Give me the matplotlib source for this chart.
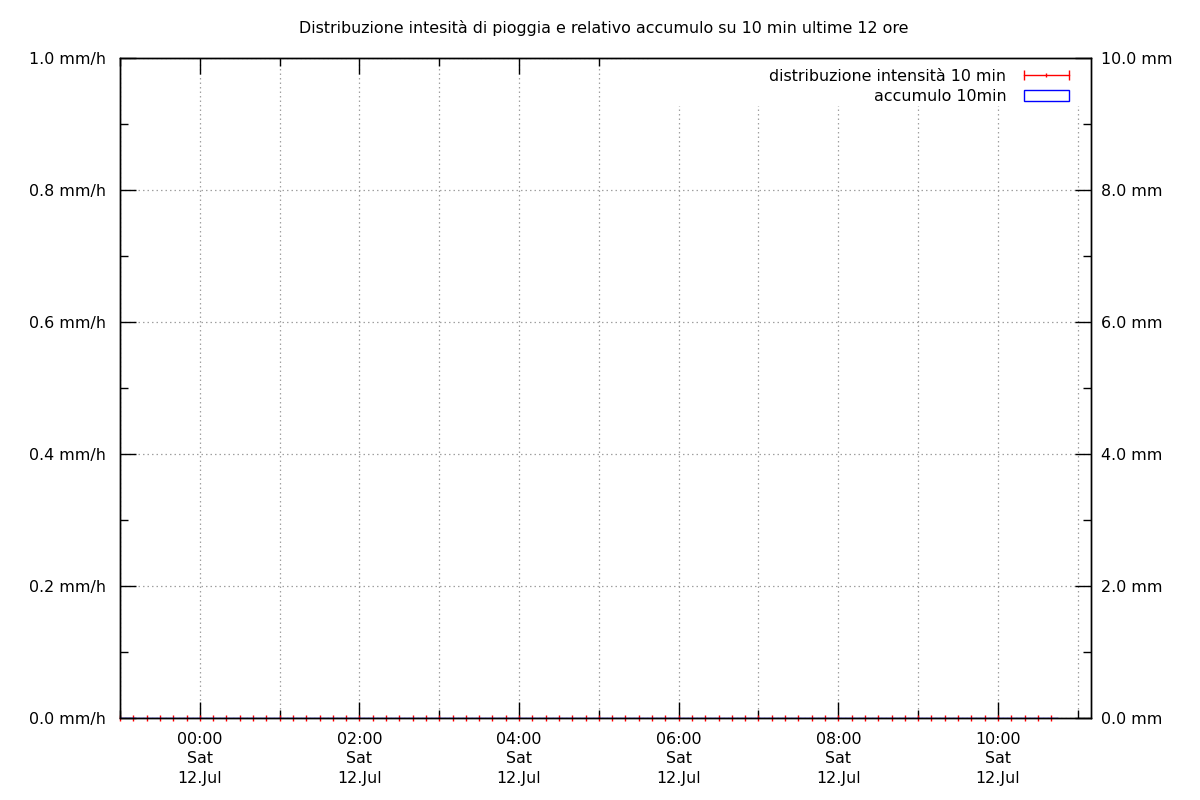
import matplotlib
matplotlib.use("Agg")
import matplotlib.pyplot as plt
import matplotlib.dates as mdates
from matplotlib.lines import Line2D
from matplotlib.patches import Rectangle
import numpy as np
import pandas as pd

plt.rcParams['font.family'] = ['DejaVu Sans']

# ---- data ----
title = "Distribuzione intesità di pioggia e relativo accumulo su 10 min ultime 12 ore"
times = pd.date_range("2025-07-11 23:00", "2025-07-12 10:40", freq="10min")
intensity = [0.0] * len(times)          # mm/h
intensity_err = [0.0] * len(times)
accum = [0.0] * len(times)              # mm
x_start = pd.Timestamp("2025-07-11 23:00")
x_end = pd.Timestamp("2025-07-12 11:10")
label_int = "distribuzione intensità 10 min"
label_acc = "accumulo 10min"

FS = 11.4

fig = plt.figure(figsize=(12, 8), dpi=100)
ax = fig.add_axes([0.1, 0.1025, 0.8092, 0.825])
ax2 = ax.twinx()

ax.errorbar(times, intensity, yerr=intensity_err, fmt='|', color='red', ms=4,
            mew=1, elinewidth=1, capsize=0, clip_on=False, zorder=2)
ax2.bar(times, accum, width=pd.Timedelta(minutes=10), fill=False,
        edgecolor='blue', linewidth=1, zorder=1)

ax.set_xlim(x_start, x_end)
ax.set_ylim(0, 1.0)
ax2.set_ylim(0, 10.0)

ax.xaxis.set_major_locator(mdates.HourLocator(byhour=range(0, 24, 2)))
ax.xaxis.set_minor_locator(mdates.HourLocator())
ax.xaxis.set_major_formatter(mdates.DateFormatter('%H:%M\n%a\n%d.%b'))
ax.yaxis.set_major_locator(plt.MultipleLocator(0.2))
ax.yaxis.set_minor_locator(plt.MultipleLocator(0.1))
ax.yaxis.set_major_formatter(plt.FuncFormatter(lambda v, p: f"{v:.1f} mm/h"))
ax2.yaxis.set_major_locator(plt.MultipleLocator(2.0))
ax2.yaxis.set_minor_locator(plt.MultipleLocator(1.0))
ax2.yaxis.set_major_formatter(plt.FuncFormatter(lambda v, p: f"{v:.1f} mm"))

ax.tick_params(axis='x', which='both', direction='in', top=True, bottom=True,
               labelsize=FS, pad=10)
ax.tick_params(axis='x', which='major', length=11.5, width=1)
ax.tick_params(axis='x', which='minor', length=6, width=1)
ax.tick_params(axis='y', which='both', direction='in', left=True, right=False,
               labelsize=FS, pad=10)
ax.tick_params(axis='y', which='major', length=11.5, width=1)
ax.tick_params(axis='y', which='minor', length=6, width=1)
ax2.tick_params(axis='y', which='both', direction='in', right=True, left=False,
                labelsize=FS, pad=7)
ax2.tick_params(axis='y', which='major', length=11.5, width=1)
ax2.tick_params(axis='y', which='minor', length=6, width=1)
for lab in ax.get_xticklabels():
    lab.set_linespacing(1.37)

ax.grid(True, which='major', axis='both', color='#a0a0a0', linestyle=(0, (1.2, 2.4)), linewidth=0.9)
ax.grid(True, which='minor', axis='x', color='#a0a0a0', linestyle=(0, (1.2, 2.4)), linewidth=0.9)
ax.set_axisbelow(True)
for a in (ax, ax2):
    for s in a.spines.values():
        s.set_linewidth(1)
        s.set_color('black')

# white key background (covers grid like gnuplot's key box)
ax.add_patch(Rectangle((0.545, 0.927), 0.455, 0.073, transform=ax.transAxes,
                       facecolor='white', edgecolor='none', zorder=1))

fig.text(0.503, 0.965, title, ha='center', va='center', fontsize=FS)


class ErrHandler:
    def legend_artist(self, legend, orig_handle, fontsize, handlebox):
        x0, y0 = handlebox.xdescent, handlebox.ydescent
        w, h = handlebox.width, handlebox.height
        yc = h / 2 - y0
        tr = handlebox.get_transform()
        arts = [
            Line2D([-x0, -x0 + w], [yc, yc], color='red', lw=1, transform=tr),
            Line2D([-x0, -x0 + w], [yc, yc], color='red', lw=0, marker='|',
                   ms=7, mew=1, markevery=[0, 1], transform=tr),
            Line2D([-x0 + w / 2], [yc], color='red', lw=0, marker='|', ms=3,
                   mew=1, transform=tr),
        ]
        for a in arts:
            handlebox.add_artist(a)
        return arts[0]


h_int = Line2D([], [], color='red')
h_acc = Rectangle((0, 0), 1, 1, facecolor='none', edgecolor='blue', linewidth=1)
leg = ax2.legend([h_int, h_acc], [label_int, label_acc], loc='upper right',
                 bbox_to_anchor=(0.9822, 0.9905),
                 markerfirst=False, frameon=False, fontsize=FS, handlelength=2.85,
                 handleheight=0.7, handletextpad=1.1, labelspacing=0.3,
                 borderaxespad=0, borderpad=0.3,
                 handler_map={h_int: ErrHandler()})
leg.set_zorder(5)

fig.savefig("out.png", dpi=100)
